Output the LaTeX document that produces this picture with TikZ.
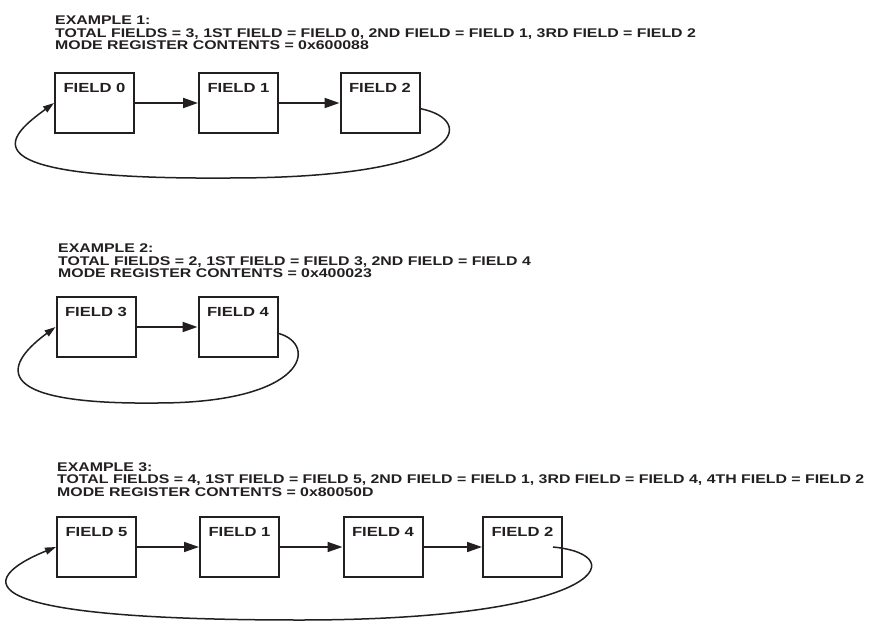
\documentclass[tikz,border=0pt]{standalone}
\usepackage{fontspec}
\setmainfont{Liberation Sans}[FakeStretch=1.26]
\usepackage{xcolor}
\usepackage{tikz}
\usetikzlibrary{arrows.meta, calc}
\definecolor{ink}{RGB}{35,31,32}

\begin{document}
\begin{tikzpicture}[x=1pt, y=-1pt,
  hdr/.style={anchor=north west, inner sep=0pt, align=left, text=ink,
    font=\fontsize{12.6}{12.5}\selectfont\bfseries},
  fieldbox/.style={draw=ink, line width=2pt, minimum width=79pt, minimum height=60pt,
    inner sep=0pt, text depth=31pt, text=ink, font=\fontsize{13.2}{13}\selectfont\bfseries},
  fieldarrow/.style={draw=ink, line width=2pt, -{Triangle[length=15pt,width=10pt]}},
  looparrow/.style={draw=ink, line width=1.5pt, -{Triangle[length=11pt,width=7pt]}}]
\useasboundingbox (0,0) rectangle (870,623);

% Example 1
\node[hdr] (h1) at (55,16) {EXAMPLE 1:\\TOTAL FIELDS = 3, 1ST FIELD = FIELD 0, 2ND FIELD = FIELD 1, 3RD FIELD = FIELD 2\\MODE REGISTER CONTENTS = 0x600088};
\foreach \i/\n/\x in {1/0/94.5, 2/1/238.5, 3/2/380} {
   \node[fieldbox] (a\i) at (\x,103) {FIELD \n};
}
\draw[fieldarrow] (a1) -- (a2);
\draw[fieldarrow] (a2) -- (a3);
\coordinate (b1) at (230,178);
\draw[looparrow] (a3.-8) .. controls +(56,11) and +(240,0) .. (b1)
   .. controls +(-275,2) and +(-45,33) .. (a1.west);

% Example 2
\node[hdr] (h2) at (58,244) {EXAMPLE 2:\\TOTAL FIELDS = 2, 1ST FIELD = FIELD 3, 2ND FIELD = FIELD 4\\MODE REGISTER CONTENTS = 0x400023};
\foreach \i/\n/\x in {1/3/96, 2/4/238} {
   \node[fieldbox] (b\i) at (\x,327) {FIELD \n};
}
\draw[fieldarrow] (b1) -- (b2);
\coordinate (b2bot) at (157,403);
\draw[looparrow] (b2.-9) .. controls +(40,11) and +(150,0) .. (b2bot)
   .. controls +(-180,2) and +(-45,33) .. (b1.west);

% Example 3
\node[hdr] (h3) at (57,462) {EXAMPLE 3:\\TOTAL FIELDS = 4, 1ST FIELD = FIELD 5, 2ND FIELD = FIELD 1, 3RD FIELD = FIELD 4, 4TH FIELD = FIELD 2\\MODE REGISTER CONTENTS = 0x80050D};
\foreach \i/\n/\x in {1/5/96.5, 2/1/239.5, 3/4/383, 4/2/522.5} {
   \node[fieldbox] (c\i) at (\x,547) {FIELD \n};
}
\draw[fieldarrow, line width=1.6pt] (c1) -- (c2);
\draw[fieldarrow, line width=1.6pt] (c2) -- (c3);
\draw[fieldarrow, line width=1.6pt] (c3) -- (c4);
\coordinate (b3) at (300,620);
\draw[looparrow] ($(c4.east)+(-10,0)$) .. controls +(83,8) and +(300,0) .. (b3)
   .. controls +(-390,0) and +(-50,20) .. (c1.west);
\end{tikzpicture}
\end{document}
